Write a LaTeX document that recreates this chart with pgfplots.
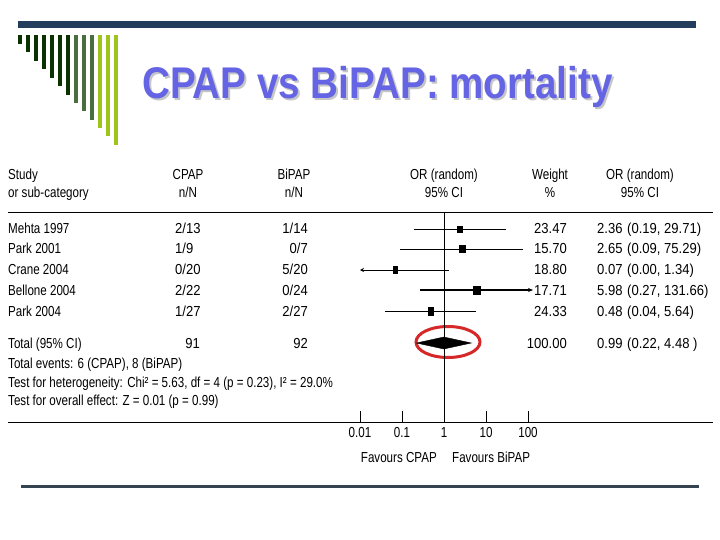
\documentclass[border=0pt]{standalone}
\usepackage{pgfplots}
\pgfplotsset{compat=1.18}
\usepackage{fontspec}
\usetikzlibrary{arrows.meta}
\setmainfont{Liberation Sans}
\newfontfamily\tfam[FakeStretch=0.8]{Liberation Sans}
\newfontfamily\nfam[FakeStretch=0.9]{Liberation Sans}
\newcommand\T{\tfam\fontsize{14.5bp}{16bp}\selectfont}
\newcommand\N{\nfam\fontsize{14.5bp}{16bp}\selectfont}
\definecolor{navy}{HTML}{233D5C}
\definecolor{slate}{HTML}{34434F}
\definecolor{titleblue}{HTML}{6464E4}
\definecolor{gA}{HTML}{0A3300}
\definecolor{gB}{HTML}{4B6E3E}
\definecolor{gC}{HTML}{A0C41E}
\definecolor{ringred}{HTML}{D62828}
\newcommand\ttl{\scalebox{1}[1.15]{\fontsize{38.6bp}{40bp}\selectfont\bfseries CPAP vs BiPAP: mortality}}
\begin{document}
\begin{tikzpicture}
\begin{scope}[x=1bp,y=-1bp]
\path[use as bounding box, fill=white] (0,0) rectangle (720,540);
% top bar
\fill[navy] (18,21) rectangle (696,28);
% green bars
\foreach \i/\b/\c in {0/44/gA,1/52.5/gA,2/61/gA,3/69/gA,4/78/gA,5/86/gA,6/95/gA,7/103/gB,8/111/gB,9/120/gB,10/128/gC,11/136/gC,12/145/gC}
  \fill[\c] ({18+8*\i},35) rectangle ({22+8*\i},\b);
% title with drop shadow
\node[anchor=west, inner sep=0pt] at (142,88) {\rlap{\hspace{2bp}\raisebox{-2bp}{\color{gray!45}\ttl}}{\color{titleblue}\ttl}};
% bottom rule
\fill[slate] (21,484.5) rectangle (699,487.5);
% header line
\draw[black, line width=0.8bp] (8,212) -- (713,212);
\tikzset{t/.style={inner sep=0pt, text height=10bp, text depth=0pt, font=\T},
         n/.style={inner sep=0pt, text height=10bp, text depth=0pt, font=\N}}
% headers
\node[t, anchor=west] at (8,175) {Study};
\node[t, anchor=west] at (8,193) {or sub-category};
\node[t] at (188,175) {CPAP};
\node[t] at (188,193) {n/N};
\node[t] at (294,175) {BiPAP};
\node[t] at (294,193) {n/N};
\node[t] at (444,175) {OR (random)};
\node[t] at (444,193) {95\% CI};
\node[t] at (550,175) {Weight};
\node[t] at (550,193) {\%};
\node[t] at (640,175) {OR (random)};
\node[t] at (640,193) {95\% CI};
% rows
\foreach \y/\s/\a/\bb/\w/\o/\ci in {229/Mehta 1997/2\slash13/1\slash14/23.47/2.36/{(0.19, 29.71)},249/Park 2001/1\slash9/0\slash7/15.70/2.65/{(0.09, 75.29)},270/Crane 2004/0\slash20/5\slash20/18.80/0.07/{(0.00, 1.34)},290/Bellone 2004/2\slash22/0\slash24/17.71/5.98/{(0.27, 131.66)},311/Park 2004/1\slash27/2\slash27/24.33/0.48/{(0.04, 5.64)}}{
  \node[t, anchor=west] at (8,\y) {\s};
  \node[n, anchor=west] at (175,\y) {\a};
  \node[n, anchor=east] at (308,\y) {\bb};
  \node[n, anchor=east] at (567,\y) {\w};
  \node[n, anchor=west] at (597,\y) {\o};
  \node[n, anchor=west] at (627,\y) {\ci};
}
\node[t, anchor=west] at (8,343) {Total (95\% CI)};
\node[n, anchor=east] at (200,343) {91};
\node[n, anchor=east] at (308,343) {92};
\node[n, anchor=east] at (567,343) {100.00};
\node[n, anchor=west] at (597,343) {0.99};
\node[n, anchor=west] at (627,343) {(0.22, 4.48 )};
\node[t, anchor=west] at (8,363) {Total events: 6 (CPAP), 8 (BiPAP)};
\node[t, anchor=west] at (8,382) {Test for heterogeneity: Chi² = 5.63, df = 4 (p = 0.23), I² = 29.0\%};
\node[t, anchor=west] at (8,400) {Test for overall effect: Z = 0.01 (p = 0.99)};
\node[t, anchor=east] at (437,457) {Favours CPAP};
\node[t, anchor=west] at (452,457) {Favours BiPAP};
% ring
\draw[ringred, line width=3bp] (448,342) ellipse [x radius=32, y radius=15.5];
\end{scope}
\begin{axis}[
  at={(8bp,-422bp)}, anchor=south west,
  scale only axis, width=705bp, height=210bp,
  xmode=log, xmin=4.159e-11, xmax=2.541e6,
  ymin=-422, ymax=-212,
  axis x line*=bottom, axis y line=none,
  xtick={0.01,0.1,1,10,100}, xticklabels={0.01,0.1,1,10,100},
  xminorticks=false, ytick=\empty,
  tick align=inside, major tick length=11bp,
  tick style={black, line width=0.8bp},
  axis line style={black, line width=0.8bp, -},
  xticklabel style={font=\T, inner sep=0pt, text height=10bp, text depth=0pt, anchor=north, yshift=-5bp},
  clip=false,
]
\addplot[black, line width=0.8bp] coordinates {(1,-212) (1,-422)};
% confidence intervals
\addplot[black, line width=0.8bp] coordinates {(0.19,-229) (29.71,-229)};
\addplot[black, line width=0.8bp] coordinates {(0.09,-249) (75.29,-249)};
\addplot[black, line width=0.8bp, {Stealth[length=4bp,width=4bp]}-] coordinates {(0.01,-270) (1.34,-270)};
\addplot[black, line width=1.3bp, -{Stealth[length=5bp,width=4bp]}] coordinates {(0.27,-290) (131.66,-290)};
\addplot[black, line width=0.8bp] coordinates {(0.04,-311) (5.64,-311)};
% point estimates
\addplot[only marks, mark=square*, mark size=3, mark options={xscale=0.83, black}] coordinates {(2.36,-229)};
\addplot[only marks, mark=square*, mark size=3.5, mark options={xscale=0.86, black}] coordinates {(2.65,-249)};
\addplot[only marks, mark=square*, mark size=3.5, mark options={xscale=0.6, black}] coordinates {(0.07,-270)};
\addplot[only marks, mark=square*, mark size=4, mark options={xscale=0.85, black}] coordinates {(5.98,-290)};
\addplot[only marks, mark=square*, mark size=4, mark options={xscale=0.65, black}] coordinates {(0.48,-311)};
% pooled estimate
\addplot[fill=black, draw=black] coordinates {(0.22,-343) (0.99,-337) (4.48,-343) (0.99,-349)} --cycle;
\end{axis}
\end{tikzpicture}
\end{document}
